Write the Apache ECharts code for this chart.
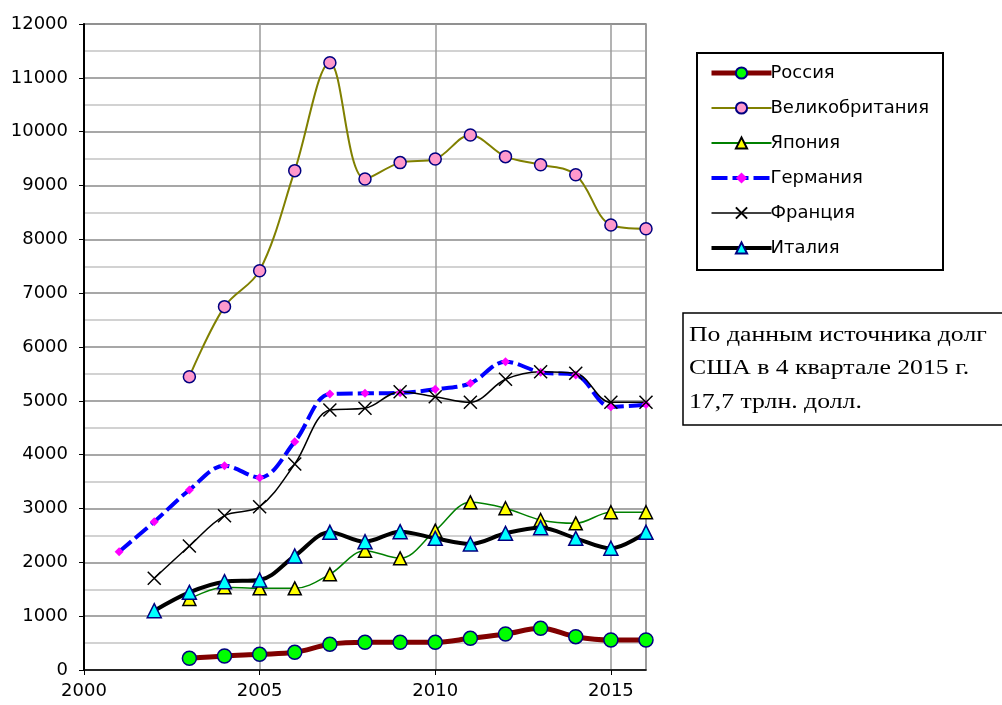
<!DOCTYPE html>
<html>
<head>
<meta charset="utf-8">
<script src="https://cdn.jsdelivr.net/npm/echarts@6/dist/echarts.min.js"></script>
<style>
  html, body { margin: 0; padding: 0; background: #fff; }
  #chart { width: 1002px; height: 705px; }
</style>
</head>
<body>
<div id="chart"></div>
<script>
// years per series and values
const yearsRussia = [2003, 2004, 2005, 2006, 2007, 2008, 2009, 2010, 2011, 2012, 2013, 2014, 2015, 2016];
const russia = [217, 260, 291, 328, 477, 514, 514, 514, 588, 669, 774, 619, 557, 557];

const yearsUK = [2003, 2004, 2005, 2006, 2007, 2008, 2009, 2010, 2011, 2012, 2013, 2014, 2015, 2016];
const uk = [5449, 6750, 7418, 9276, 11282, 9121, 9425, 9493, 9939, 9536, 9387, 9201, 8267, 8198];

const yearsJapan = [2003, 2004, 2005, 2006, 2007, 2008, 2009, 2010, 2011, 2012, 2013, 2014, 2015, 2016];
const japan = [1319, 1536, 1517, 1517, 1777, 2216, 2074, 2588, 3115, 3004, 2787, 2725, 2930, 2930];

const yearsGermany = [2001, 2002, 2003, 2004, 2005, 2006, 2007, 2008, 2009, 2010, 2011, 2012, 2013, 2014, 2015, 2016];
const germany = [2198, 2755, 3344, 3796, 3573, 4242, 5127, 5140, 5150, 5214, 5326, 5728, 5530, 5480, 4890, 4930];

const yearsFrance = [2002, 2003, 2004, 2005, 2006, 2007, 2008, 2009, 2010, 2011, 2012, 2013, 2014, 2015, 2016];
const france = [1703, 2303, 2867, 3034, 3827, 4830, 4861, 5170, 5077, 4972, 5400, 5542, 5511, 4972, 4972];

const yearsItaly = [2002, 2003, 2004, 2005, 2006, 2007, 2008, 2009, 2010, 2011, 2012, 2013, 2014, 2015, 2016];
const italy = [1102, 1443, 1641, 1672, 2118, 2558, 2384, 2570, 2446, 2341, 2539, 2644, 2446, 2261, 2558];

const noteLines = ['По данным источника долг', 'США в 4 квартале 2015 г.', '17,7 трлн. долл.'];

function pairs(xs, ys) {
    return xs.map((x, i) => [x, ys[i]]);
}

const chart = echarts.init(document.getElementById('chart'));
const font = '"DejaVu Sans", sans-serif';
const crossPath = 'path://M0,0L10,10M0,10L10,0';

const option = {
    animation: false,
    grid: {
        left: 84, top: 24, right: 356, bottom: 35,
        show: true, borderColor: '#8a8a8a', borderWidth: 1.5
    },
    xAxis: {
        type: 'value',
        min: 2000, max: 2016, interval: 5,
        axisLine: { show: true, lineStyle: { color: '#000', width: 1.5 } },
        axisTick: { show: true, length: 5, lineStyle: { color: '#000' } },
        axisLabel: {
            color: '#000', fontSize: 18, fontFamily: font, margin: 12, showMaxLabel: false,
            formatter: v => String(v)
        },
        splitLine: { show: true, lineStyle: { color: '#9a9a9a', width: 1.5 } }
    },
    yAxis: {
        type: 'value',
        min: 0, max: 12000, interval: 1000,
        axisLine: { show: true, lineStyle: { color: '#000', width: 2 } },
        axisTick: { show: true, length: 5, lineStyle: { color: '#000' } },
        axisLabel: { color: '#000', fontSize: 18, fontFamily: font, margin: 16, formatter: v => String(v) },
        splitLine: { show: true, lineStyle: { color: '#8a8a8a', width: 1.5 } },
        minorTick: { show: false, splitNumber: 2 },
        minorSplitLine: { show: true, lineStyle: { color: '#c4c4c4', width: 1.5 } }
    },
    legend: {
        orient: 'vertical',
        left: 704, top: 59,
        itemWidth: 60, itemHeight: 14, itemGap: 17,
        textStyle: { color: '#000', fontSize: 18, fontFamily: font, padding: [0, 0, 0, -6] },
        data: [
            { name: 'Россия', lineStyle: { width: 5 } },
            { name: 'Великобритания', lineStyle: { width: 2 } },
            { name: 'Япония', lineStyle: { width: 2 } },
            { name: 'Германия', lineStyle: { width: 4 } },
            { name: 'Франция', lineStyle: { width: 1.5 } },
            { name: 'Италия', lineStyle: { width: 4 } }
        ]
    },
    series: [
        {
            name: 'Россия', type: 'line', smooth: 0.35, z: 6,
            data: pairs(yearsRussia, russia),
            lineStyle: { color: '#800000', width: 5 },
            symbol: 'circle', symbolSize: 14,
            itemStyle: { color: '#00ff00', borderColor: '#000080', borderWidth: 1.5 }
        },
        {
            name: 'Великобритания', type: 'line', smooth: 0.35,
            data: pairs(yearsUK, uk),
            lineStyle: { color: '#808000', width: 2 },
            symbol: 'circle', symbolSize: 12,
            itemStyle: { color: '#ff99cc', borderColor: '#000080', borderWidth: 1.5 }
        },
        {
            name: 'Япония', type: 'line', smooth: 0.35,
            data: pairs(yearsJapan, japan),
            lineStyle: { color: '#008000', width: 1.5 },
            symbol: 'triangle', symbolSize: 13,
            itemStyle: { color: '#ffff00', borderColor: '#000', borderWidth: 1.5 }
        },
        {
            name: 'Германия', type: 'line', smooth: 0.35,
            data: pairs(yearsGermany, germany),
            lineStyle: { color: '#0000ff', width: 4, type: [16, 5] },
            symbol: 'diamond', symbolSize: 9,
            itemStyle: { color: '#ff00ff', borderWidth: 0 }
        },
        {
            name: 'Франция', type: 'line', smooth: 0.35,
            data: pairs(yearsFrance, france),
            lineStyle: { color: '#000', width: 1.5 },
            symbol: crossPath, symbolSize: 13,
            itemStyle: { color: '#000', borderColor: '#000', borderWidth: 1.5 }
        },
        {
            name: 'Италия', type: 'line', smooth: 0.35, z: 5,
            data: pairs(yearsItaly, italy),
            lineStyle: { color: '#000', width: 4 },
            symbol: 'triangle', symbolSize: 14,
            itemStyle: { color: '#00ffff', borderColor: '#000080', borderWidth: 1.5 }
        }
    ],
    graphic: [
        {
            type: 'rect', silent: true,
            shape: { x: 697, y: 53, width: 246, height: 217 },
            style: { fill: 'none', stroke: '#000', lineWidth: 2 }
        },
        {
            type: 'rect', silent: true,
            shape: { x: 683, y: 313, width: 340, height: 112 },
            style: { fill: '#fff', stroke: '#000', lineWidth: 1.5 }
        },
        {
            type: 'text', silent: true,
            x: 689, y: 318, scaleX: 1.17,
            style: {
                text: noteLines.join('\n'),
                fill: '#000',
                font: '22px "Liberation Serif", "Times New Roman", serif',
                lineHeight: 33.5
            }
        }
    ]
};

chart.setOption(option);
</script>
</body>
</html>
